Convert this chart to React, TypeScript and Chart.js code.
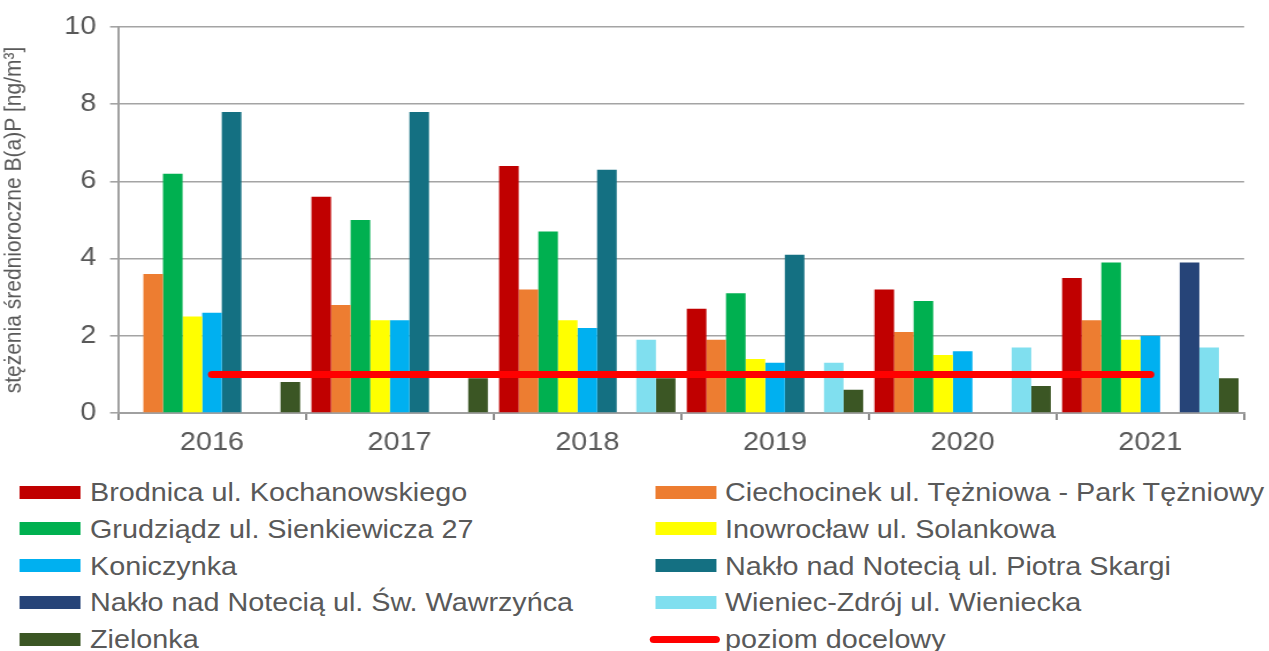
import React, { useEffect, useRef } from 'react';
import { Chart, registerables } from 'chart.js';

Chart.register(...registerables);

// ---- data ----
const years = ['2016', '2017', '2018', '2019', '2020', '2021'];
const brodnica = [null, 5.6, 6.4, 2.7, 3.2, 3.5];
const ciechocinek = [3.6, 2.8, 3.2, 1.9, 2.1, 2.4];
const grudziadz = [6.2, 5.0, 4.7, 3.1, 2.9, 3.9];
const inowroclaw = [2.5, 2.4, 2.4, 1.4, 1.5, 1.9];
const koniczynka = [2.6, 2.4, 2.2, 1.3, 1.6, 2.0];
const nakloSkargi = [7.8, 7.8, 6.3, 4.1, null, null];
const nakloWawrzynca = [null, null, null, null, null, 3.9];
const wieniec = [null, null, 1.9, 1.3, 1.7, 1.7];
const zielonka = [0.8, 0.9, 0.9, 0.6, 0.7, 0.9];
const poziomDocelowy = [1, 1, 1, 1, 1, 1];

const seriesNames = [
  'Brodnica ul. Kochanowskiego',
  'Ciechocinek ul. Tężniowa - Park Tężniowy',
  'Grudziądz ul. Sienkiewicza 27',
  'Inowrocław ul. Solankowa',
  'Koniczynka',
  'Nakło nad Notecią ul. Piotra Skargi',
  'Nakło nad Notecią ul. Św. Wawrzyńca',
  'Wieniec-Zdrój ul. Wieniecka',
  'Zielonka',
];
const seriesValues = [brodnica, ciechocinek, grudziadz, inowroclaw, koniczynka, nakloSkargi, nakloWawrzynca, wieniec, zielonka];
const seriesColors = ['#c00000', '#ed7d31', '#00b050', '#ffff00', '#00b0f0', '#147082', '#264478', '#80dfef', '#3b5624'];
const lineName = 'poziom docelowy';
const lineColor = '#ff0000';
const yTitle = 'stężenia średnioroczne B(a)P [ng/m³]';

const S = 1.15; // horizontal stretch of the original picture
const W = 1269 / S;
const FONT = '"Liberation Sans", Arial, Helvetica, sans-serif';
const TEXT = '#595959';

export default function App() {
  const ref = useRef<HTMLCanvasElement | null>(null);

  useEffect(() => {
    if (!ref.current) return;
    const datasets: any[] = seriesNames.map((name, i) => ({
      type: 'bar',
      label: name,
      data: seriesValues[i],
      backgroundColor: seriesColors[i],
      borderWidth: 0,
      categoryPercentage: 0.94,
      barPercentage: 1.0,
      order: 1,
    }));
    datasets.push({
      type: 'line',
      label: lineName,
      data: poziomDocelowy,
      borderColor: lineColor,
      backgroundColor: lineColor,
      borderWidth: 7,
      borderCapStyle: 'round',
      pointRadius: 0,
      fill: false,
      order: 0,
    });
    const chart = new Chart(ref.current, {
      type: 'bar',
      data: { labels: years, datasets },
      options: {
        animation: false,
        responsive: true,
        maintainAspectRatio: false,
        layout: { padding: { top: 27, left: 0, right: W - 1243 / S, bottom: 0 } },
        plugins: { legend: { display: false }, tooltip: { enabled: false } },
        scales: {
          x: {
            type: 'category',
            offset: true,
            grid: { display: true, drawOnChartArea: false, drawTicks: true, tickLength: 7, offset: true, color: '#8c8c8c', lineWidth: 2 },
            border: { display: true, color: '#a0a0a0', width: 2 },
            ticks: { font: { family: FONT, size: 25 }, color: TEXT, padding: 8, maxRotation: 0 },
            afterFit: (scale: any) => { scale.height = 47; },
          },
          y: {
            min: 0,
            max: 10,
            ticks: { stepSize: 2, font: { family: FONT, size: 25 }, color: TEXT, padding: 12 },
            grid: { color: '#a4a4a4', lineWidth: 1.6, tickLength: 7, drawTicks: true },
            border: { display: true, color: '#a0a0a0', width: 2 },
            title: { display: true, text: yTitle, font: { family: FONT, size: 21 }, color: TEXT, padding: { top: 0, bottom: 0 } },
            afterFit: (scale: any) => { scale.width = 118 / S; },
          },
        },
      } as any,
    });
    return () => chart.destroy();
  }, []);

  const legendItems = [
    ...seriesNames.map((n, i) => ({ name: n, color: seriesColors[i], line: false })),
    { name: lineName, color: lineColor, line: true },
  ];

  return (
    <div style={{ position: 'absolute', left: 0, top: 0, width: W, height: 651, transform: `scaleX(${S})`, transformOrigin: '0 0', background: '#fff', overflow: 'hidden' }}>
      <div style={{ position: 'relative', width: W, height: 460 }}>
        <canvas ref={ref} />
      </div>
      {legendItems.map((it, i) => {
        const col = i % 2;
        const row = Math.floor(i / 2);
        const cy = 492 + row * 36.8;
        const swLeft = col === 0 ? 19 / S : 655 / S;
        const txtLeft = col === 0 ? 90 / S : 725 / S;
        return (
          <div key={i}>
            {it.line ? (
              <div style={{ position: 'absolute', left: 650 / S, top: cy - 3.5, width: 70 / S, height: 7, borderRadius: 4, background: it.color }} />
            ) : (
              <div style={{ position: 'absolute', left: swLeft, top: cy - 6.5, width: 62 / S, height: 13, background: it.color }} />
            )}
            <div style={{ position: 'absolute', left: txtLeft, top: cy - 15, height: 30, lineHeight: '30px', fontFamily: FONT, fontSize: 25, color: TEXT, whiteSpace: 'nowrap' }}>
              {it.name}
            </div>
          </div>
        );
      })}
    </div>
  );
}
